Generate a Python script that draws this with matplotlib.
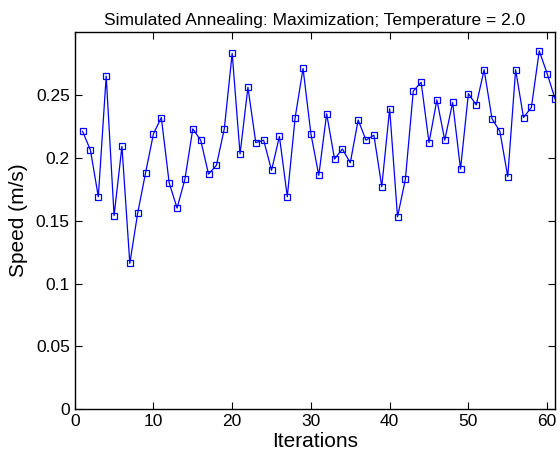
import matplotlib
matplotlib.use("Agg")
import matplotlib.pyplot as plt

plt.rcParams["font.family"] = ["Liberation Sans", "DejaVu Sans"]

# speed per iteration
iterations = list(range(1, 62))
speed = [
    0.221, 0.206, 0.169, 0.265, 0.154, 0.209, 0.116, 0.156, 0.188, 0.219,
    0.232, 0.180, 0.160, 0.183, 0.223, 0.214, 0.187, 0.194, 0.223, 0.283,
    0.203, 0.256, 0.212, 0.214, 0.190, 0.217, 0.169, 0.232, 0.271, 0.219,
    0.186, 0.235, 0.199, 0.207, 0.196, 0.230, 0.214, 0.218, 0.177, 0.239,
    0.153, 0.183, 0.253, 0.260, 0.212, 0.246, 0.214, 0.244, 0.191, 0.251,
    0.242, 0.270, 0.231, 0.221, 0.185, 0.270, 0.232, 0.240, 0.285, 0.267,
    0.247,
]
yticks = [0, 0.05, 0.1, 0.15, 0.2, 0.25]
ytick_labels = ["0", "0.05", "0.1", "0.15", "0.2", "0.25"]
xticks = [0, 10, 20, 30, 40, 50, 60]

fig = plt.figure(figsize=(5.6, 4.57), dpi=100)
ax = fig.add_axes([74.7 / 560, 1 - 409.3 / 457, (555 - 74.7) / 560, (409.3 - 32) / 457])

ax.plot(iterations, speed, color="blue", linewidth=0.9, marker="s",
        markersize=5, markerfacecolor="none", markeredgecolor="blue",
        markeredgewidth=0.9)

ax.set_xlim(0, 61)
ax.set_ylim(0, 0.3)
ax.set_xticks(xticks)
ax.set_yticks(yticks)
ax.set_yticklabels(ytick_labels)
ax.tick_params(direction="in", top=True, right=True, labelsize=12.5, length=5, width=0.8)
for s in ax.spines.values():
    s.set_linewidth(1.0)

ax.set_xlabel("Iterations", fontsize=15, labelpad=2)
ax.set_ylabel("Speed (m/s)", fontsize=15, labelpad=6)
ax.set_title("Simulated Annealing: Maximization; Temperature = 2.0", fontsize=12.5, pad=5)

fig.savefig("out.png", dpi=100)
